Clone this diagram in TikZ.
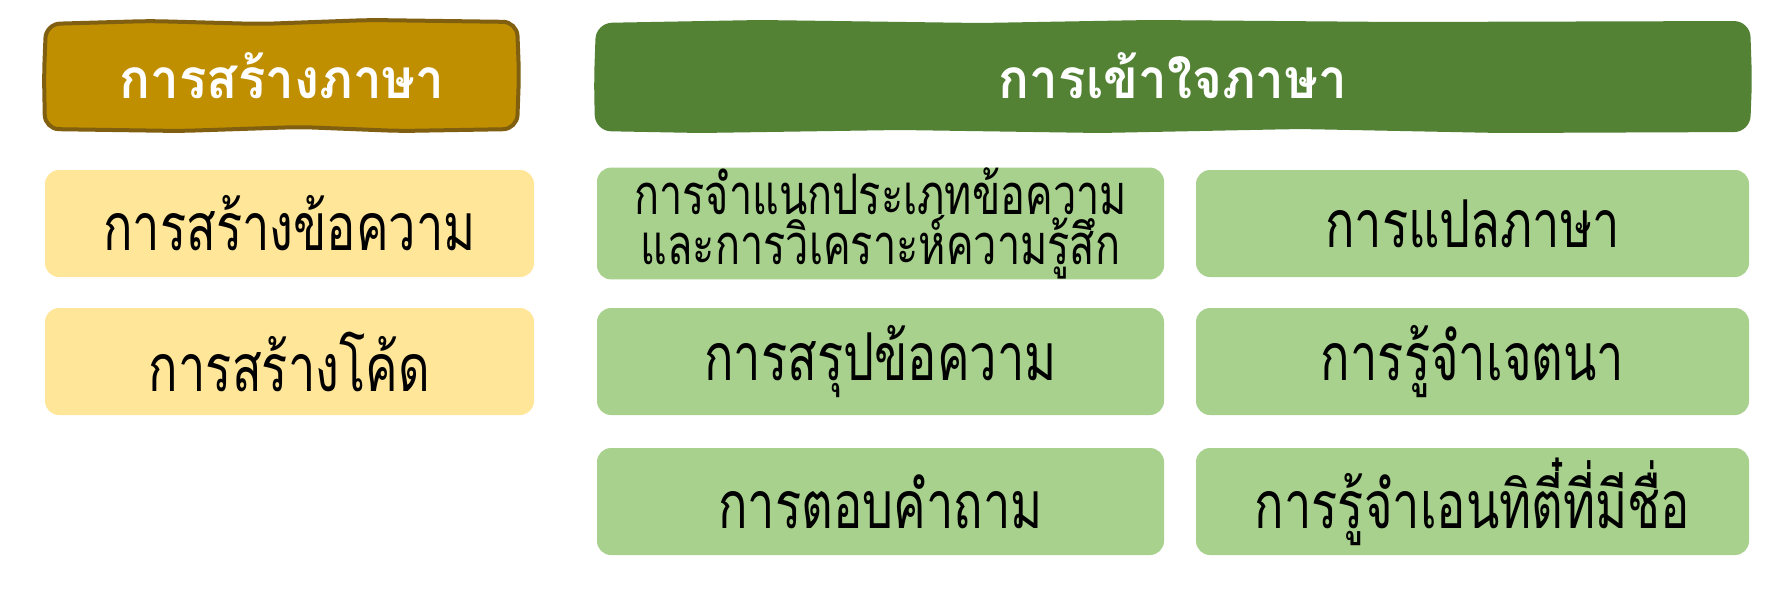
\documentclass[tikz,border=0pt]{standalone}
\usepackage{fontspec}
\newfontfamily\thaicond[Script=Thai,FakeStretch=0.74]{Loma}
\newfontfamily\thaihead[Script=Thai,FakeStretch=0.93]{Loma}
\definecolor{goldfill}{HTML}{BF8F00}
\definecolor{goldline}{HTML}{806010}
\definecolor{darkgreen}{HTML}{548235}
\definecolor{lightyellow}{HTML}{FFE699}
\definecolor{lightgreen}{HTML}{A9D18E}
\tikzset{
  headtext/.style={text=white, font=\thaihead\bfseries\fontsize{55}{60}\selectfont, inner sep=0pt},
  itembox/.style={rounded corners=14pt, draw=none, inner sep=0pt, align=center,
     font=\thaicond\fontsize{66}{70}\selectfont, text=black},
  ybox/.style={itembox, fill=lightyellow, minimum width=489pt, minimum height=107pt},
  gboxa/.style={itembox, fill=lightgreen, minimum width=567pt, minimum height=107pt},
  gboxb/.style={itembox, fill=lightgreen, minimum width=553pt, minimum height=107pt},
  twoline/.style={font=\thaicond\fontsize{56}{48}\selectfont},
}
\begin{document}
\begin{tikzpicture}[x=1pt,y=-1pt]
\useasboundingbox[fill=white] (0,0) rectangle (1791,592);
% headers (hand-drawn look)
\filldraw[fill=goldfill, draw=goldline, line width=4pt, rounded corners=14pt]
  (46,24) -- (150,21) -- (260,24) -- (370,20) -- (517,22) -- (519,75) -- (517,129)
  -- (400,131) -- (300,127) -- (180,131) -- (45,129) -- (44,75) -- cycle;
\fill[darkgreen, rounded corners=16pt]
  (596,23) -- (760,20) -- (980,23) -- (1150,20) -- (1400,22) -- (1750,21) -- (1752,80) -- (1750,132)
  -- (1500,133) -- (1300,129) -- (1100,133) -- (900,130) -- (700,133) -- (595,131) -- (594,80) -- cycle;
\node[headtext] (h1) at (282,76) {การสร้างภาษา};
\node[headtext] (h2) at (1173,76) {การเข้าใจภาษา};
% left column
\node[ybox] (y1) at (289.5,223.5) {การสร้างข้อความ};
\node[ybox] (y2) at (289.5,361.5) {การสร้างโค้ด};
% middle column
\node[gboxa, twoline] (g1) at (880.5,223.5) {การจำแนกประเภทข้อความ\\และการวิเคราะห์ความรู้สึก};
\node[gboxa] (g2) at (880.5,361.5) {การสรุปข้อความ};
\node[gboxa] (g3) at (880.5,501.5) {การตอบคำถาม};
% right column
\node[gboxb] (g4) at (1472.5,223.5) {การแปลภาษา};
\node[gboxb] (g5) at (1472.5,361.5) {การรู้จำเจตนา};
\node[gboxb] (g6) at (1472.5,501.5) {การรู้จำเอนทิตี๋ที่มีชื่อ};
\end{tikzpicture}
\end{document}
